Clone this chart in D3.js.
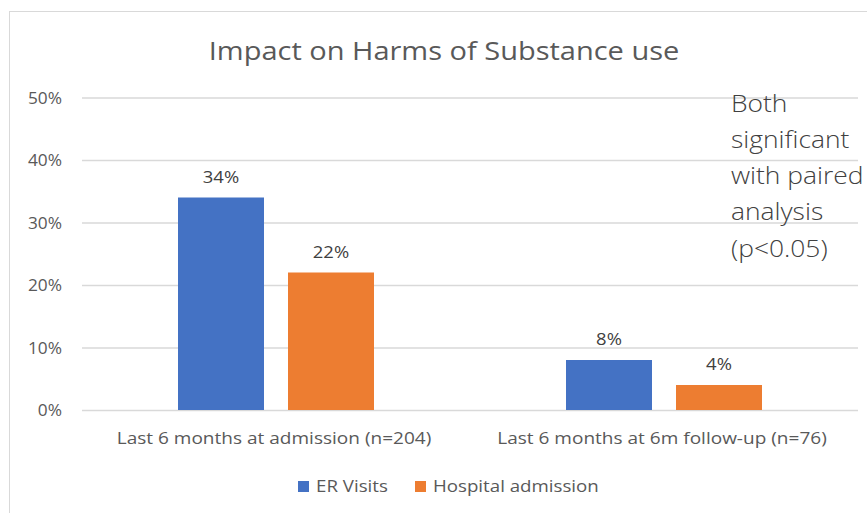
<!DOCTYPE html>
<html>
<head>
<meta charset="utf-8">
<script src="https://cdn.jsdelivr.net/npm/d3@7/dist/d3.min.js"></script>
<style>
  html, body { margin: 0; padding: 0; background: #fff; }
  svg { display: block; }
</style>
</head>
<body>
<svg id="chart" width="867" height="513"></svg>
<script>
// Share of patients with harms of substance use, by period
const categories = ["Last 6 months at admission (n=204)", "Last 6 months at 6m follow-up (n=76)"];
const seriesNames = ["ER Visits", "Hospital admission"];
const erVisits = [0.34, 0.08];
const hospitalAdmission = [0.22, 0.04];
const yTicks = [0, 0.1, 0.2, 0.3, 0.4, 0.5];
const noteLines = ["Both", "significant", "with paired", "analysis", "(p<0.05)"];

const colors = ["#4472C4", "#ED7D31"];
const textColor = "#595959";
const font = "'Open Sans', 'Noto Sans', sans-serif";
const SX = 1.12; // slightly wide lettering throughout

const svg = d3.select("#chart");
const W = 867, H = 513;

// Draw a text with horizontally widened glyphs, anchored at (x, y)
function wideText(parent, x, y, str, opts) {
  const g = parent.append("g").attr("transform", `translate(${x},${y})`);
  return g.append("text")
    .attr("transform", `scale(${opts.sx || SX},1)`)
    .attr("text-anchor", opts.anchor || "start")
    .attr("font-family", font)
    .attr("font-size", opts.size)
    .attr("font-weight", opts.weight || 400)
    .attr("fill", opts.fill || textColor)
    .text(str);
}

// Chart area frame
svg.append("rect")
  .attr("x", 9.5).attr("y", 11.5)
  .attr("width", W + 10).attr("height", H + 10)
  .attr("fill", "#fff").attr("stroke", "#d9d9d9").attr("stroke-width", 1);

const plot = { left: 82, right: 858, top: 97.5, bottom: 410 };

const x0 = d3.scaleBand().domain(categories).range([plot.left, plot.right]).paddingInner(0).paddingOuter(0);
const y = d3.scaleLinear().domain([0, 0.5]).range([plot.bottom, plot.top]);

const barW = 86, barGap = 24;
const x1 = d3.scaleOrdinal().domain(seriesNames)
  .range([-(barGap / 2 + barW), barGap / 2]);

// Title
wideText(svg, 444, 60, "Impact on Harms of Substance use", { size: 25, anchor: "middle", sx: 1.16 });

// Gridlines
const yAxis = d3.axisLeft(y).tickValues(yTicks).tickFormat("")
  .tickSize(-(plot.right - plot.left));
const gy = svg.append("g").attr("transform", `translate(${plot.left},0)`).call(yAxis);
gy.select(".domain").remove();
gy.selectAll(".tick line").attr("stroke", "#d9d9d9").attr("stroke-width", 1.5);

// Y labels
const pct = d3.format(".0%");
const yLab = svg.append("g");
yTicks.forEach(t => {
  wideText(yLab, 62, y(t) + 6, pct(t), { size: 16, anchor: "end", sx: 1.08 });
});

// Bars
const rows = categories.map((c, i) => ({ cat: c, vals: [erVisits[i], hospitalAdmission[i]] }));
const groups = svg.append("g").selectAll("g").data(rows).join("g")
  .attr("transform", d => `translate(${x0(d.cat) + x0.bandwidth() / 2},0)`);

groups.selectAll("rect")
  .data(d => d.vals.map((v, j) => ({ v, s: seriesNames[j], j })))
  .join("rect")
  .attr("x", d => x1(d.s))
  .attr("y", d => y(d.v))
  .attr("width", barW)
  .attr("height", d => y(0) - y(d.v))
  .attr("fill", d => colors[d.j]);

// Value labels
groups.each(function (d) {
  const g = d3.select(this);
  d.vals.forEach((v, j) => {
    wideText(g, x1(seriesNames[j]) + barW / 2, y(v) - 15, pct(v),
      { size: 16.5, anchor: "middle", fill: "#404040", sx: 1.12 });
  });
});

// Category labels
const xLab = svg.append("g");
categories.forEach(c => {
  wideText(xLab, x0(c) + x0.bandwidth() / 2 - 2, 444, c, { size: 17, anchor: "middle", sx: 1.12 });
});

// Legend
const legend = svg.append("g");
const legendX = [298, 415];
seriesNames.forEach((name, i) => {
  legend.append("rect")
    .attr("x", legendX[i]).attr("y", 481)
    .attr("width", 11).attr("height", 11)
    .attr("fill", colors[i]);
  wideText(legend, legendX[i] + 18, 492, name, { size: 17, sx: 1.1 });
});

// Significance note
const noteG = svg.append("g");
noteLines.forEach((line, i) => {
  wideText(noteG, 731, 111.5 + i * 36.3, line, { size: 24, weight: 300, fill: "#404040", sx: 1.1 });
});
</script>
</body>
</html>
